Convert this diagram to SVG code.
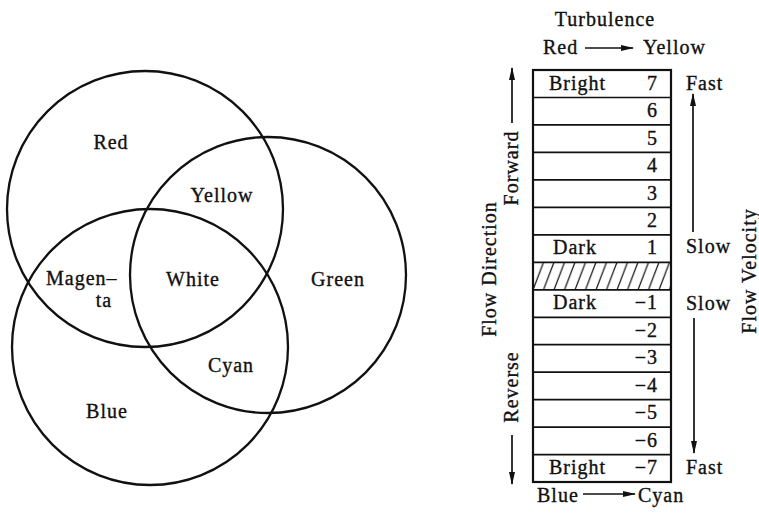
<svg xmlns="http://www.w3.org/2000/svg" width="759" height="514" viewBox="0 0 759 514">
<style>
text{font-family:"Liberation Serif","DejaVu Serif",serif;font-size:20px;letter-spacing:1px;fill:#111;stroke:#111;stroke-width:0.35}
.c{fill:none;stroke:#111;stroke-width:2.3}
.ln{stroke:#111;stroke-width:1.7;fill:none}
.box{fill:none;stroke:#111;stroke-width:2.2}
.m{text-anchor:middle}
.e{text-anchor:end}
</style>
<defs>
<marker id="ah" viewBox="0 0 13 8" refX="12" refY="4" markerWidth="13" markerHeight="8" markerUnits="userSpaceOnUse" orient="auto">
<path d="M0,1 L13,4 L0,7 Z" fill="#111"/>
</marker>
<pattern id="hatch" patternUnits="userSpaceOnUse" width="10.5" height="27.5" x="533" y="262.3">
<line x1="-10.5" y1="27.5" x2="0" y2="0" stroke="#111" stroke-width="1.2"/>
<line x1="0" y1="27.5" x2="10.5" y2="0" stroke="#111" stroke-width="1.2"/>
<line x1="10.5" y1="27.5" x2="21" y2="0" stroke="#111" stroke-width="1.2"/>
</pattern>
</defs>
<rect width="759" height="514" fill="#fff"/>
<g id="venn">
<g id="red"><circle class="c" cx="145" cy="209" r="138"/><text class="m" x="111" y="149">Red</text></g>
<g id="green"><circle class="c" cx="268" cy="275" r="138"/><text class="m" x="338" y="286">Green</text></g>
<g id="blue"><circle class="c" cx="150" cy="347" r="138"/><text class="m" x="107" y="418">Blue</text></g>
<g id="yellow"><text class="m" x="222" y="202">Yellow</text></g>
<g id="magenta"><text x="46" y="285">Magen–</text><text class="m" x="104" y="307">ta</text></g>
<g id="white"><text class="m" x="193" y="286">White</text></g>
<g id="cyan"><text class="m" x="231" y="372">Cyan</text></g>
</g>
<g id="scale">
<rect x="533" y="262.3" width="138" height="27.5" fill="url(#hatch)"/>
<g class="ln">
<line x1="533" y1="97.5" x2="671" y2="97.5"/>
<line x1="533" y1="124.9" x2="671" y2="124.9"/>
<line x1="533" y1="152.4" x2="671" y2="152.4"/>
<line x1="533" y1="179.9" x2="671" y2="179.9"/>
<line x1="533" y1="207.4" x2="671" y2="207.4"/>
<line x1="533" y1="234.8" x2="671" y2="234.8"/>
<line x1="533" y1="262.3" x2="671" y2="262.3"/>
<line x1="533" y1="289.8" x2="671" y2="289.8"/>
<line x1="533" y1="317.3" x2="671" y2="317.3"/>
<line x1="533" y1="344.7" x2="671" y2="344.7"/>
<line x1="533" y1="372.2" x2="671" y2="372.2"/>
<line x1="533" y1="399.7" x2="671" y2="399.7"/>
<line x1="533" y1="427.1" x2="671" y2="427.1"/>
<line x1="533" y1="454.6" x2="671" y2="454.6"/>
</g>
<rect class="box" x="533" y="70" width="138" height="412"/>
<text x="549" y="90">Bright</text><text class="e" x="658" y="90">7</text>
<text class="e" x="658" y="117">6</text>
<text class="e" x="658" y="145">5</text>
<text class="e" x="658" y="172">4</text>
<text class="e" x="658" y="200">3</text>
<text class="e" x="658" y="227">2</text>
<text x="553" y="254">Dark</text><text class="e" x="658" y="254">1</text>
<text x="553" y="309">Dark</text><text class="e" x="658" y="309">−1</text>
<text class="e" x="658" y="337">−2</text>
<text class="e" x="658" y="364">−3</text>
<text class="e" x="658" y="392">−4</text>
<text class="e" x="658" y="419">−5</text>
<text class="e" x="658" y="447">−6</text>
<text x="549" y="474">Bright</text><text class="e" x="658" y="474">−7</text>
</g>
<g id="labels">
<text class="m" x="605" y="26">Turbulence</text>
<text x="543" y="54">Red</text><text x="643" y="54">Yellow</text>
<text x="537" y="502">Blue</text><text x="638" y="502">Cyan</text>
<text x="686" y="90">Fast</text>
<text x="686" y="253">Slow</text>
<text x="686" y="310">Slow</text>
<text x="686" y="474">Fast</text>
<text class="m" transform="translate(495.5,269) rotate(-90)">Flow Direction</text>
<text class="m" transform="translate(518,168) rotate(-90)">Forward</text>
<text class="m" transform="translate(518,387) rotate(-90)">Reverse</text>
<text class="m" transform="translate(756,271) rotate(-90)">Flow Velocity</text>
</g>
<g id="connectors" class="ln">
<line x1="585" y1="48" x2="633" y2="48" marker-end="url(#ah)"/>
<line x1="583" y1="494" x2="635" y2="494" marker-end="url(#ah)"/>
<line x1="512" y1="123" x2="512" y2="68" marker-end="url(#ah)"/>
<line x1="512" y1="435" x2="512" y2="484" marker-end="url(#ah)"/>
<line x1="693" y1="232" x2="693" y2="94" marker-end="url(#ah)"/>
<line x1="694" y1="318" x2="694" y2="453" marker-end="url(#ah)"/>
</g>
</svg>
